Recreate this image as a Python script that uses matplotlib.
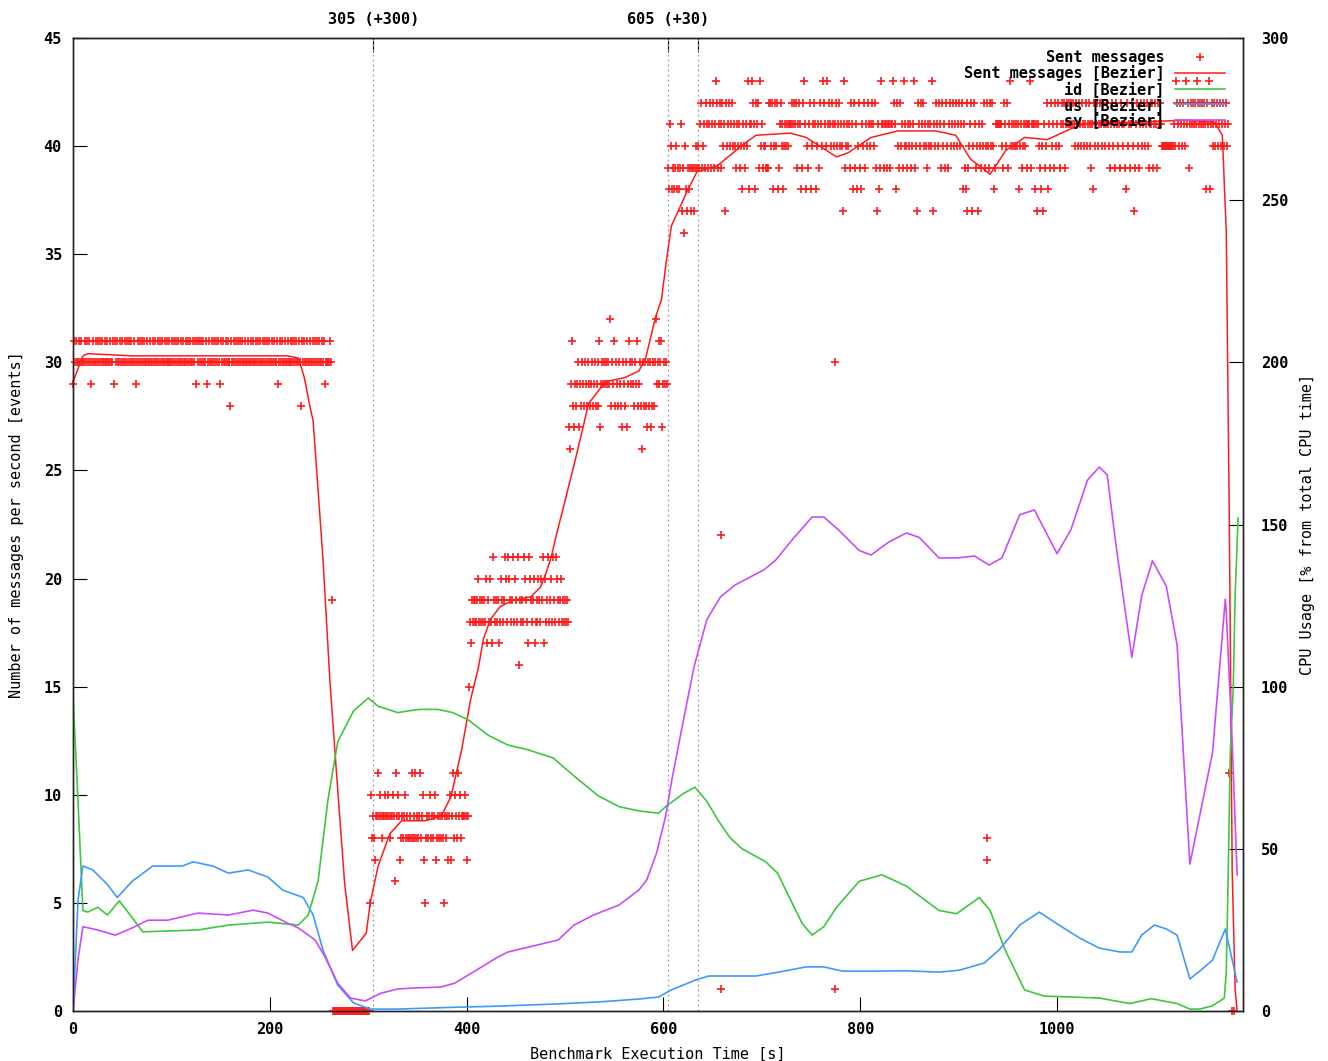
import numpy as np
import matplotlib
matplotlib.use("Agg")
import matplotlib.pyplot as plt
from matplotlib.lines import Line2D

plt.rcParams["font.family"] = "DejaVu Sans Mono"
plt.rcParams["font.weight"] = "bold"
plt.rcParams["font.size"] = 11

# Sent messages per second: one character per second, value = base + digit
steady_start, steady_base = 0, 28
steady = ("1323223232" "2232323212" "3223232323" "2232232232" "2313232232"
          "3223232323" "2232123232" "3232232232" "2323223232" "3223232232"
          "2323232322" "3232232323" "2232313232" "3232231232" "2323232321"
          "3232232322" "0322323232" "3232232232" "2323223232" "3223232323"
          "2232322312" "3232232232" "2323232322" "3203232232" "2322323232"
          "3223231222" "232")
idle_start, idle_base = 264, 0
idle = "00000000000000000000000000000000000000"
step1_start, step1_base = 302, 5
step1 = ("0534324464" "5434454454" "3445416454" "2343453433" "4363436343"
         "4634520343" "4534345234" "3434304342" "4524635436" "4534445424")
step2_start, step2_base = 402, 15
step2 = ("0324343434" "5343434352" "4353264343" "4235434653" "6543463543"
         "6143436543" "2654345234" "3543546253" "4634536436" "5434534343" "43")
step3_start, step3_base = 504, 26
step3 = ("1035213234" "1324324324" "3234234234" "2513434343" "4362435243"
         "2432143241" "3543432435" "2342042421" "4241242463" "4534513434" "3")
step4_start, step4_base = 605, 36
step4 = "3254232342" "3235130421" "3231331343"
full_start, full_base = 635, 37
full = ("3245234254" "2452452465" "2452453405" "3453453432" "4342314324"
        "3614465415" "4526342332" "2255351353" "5124534134" "3434445454"
        "5245412564" "1324513454" "1342543654" "3645435434" "5345343046"
        "2343425415" "2413521435" "2435434543" "5204126442" "4424424465"
        "4153253426" "3432434234" "6230543545" "3432434360" "4354354253"
        "4253245345" "3453453451" "4210523450" "3542304324" "3523532535"
        "3124444443" "2543524634" "3434341342" "3434244462" "4441404321"
        "3042351425" "3425345324" "5452454545" "4543543543" "5434534543"
        "2415345345" "4354345432" "4534254342" "5434215342" "4530245324"
        "5345345324" "5452454254" "5433333333" "3333436543" "5435436452"
        "4545454654" "5454541546" "1453453453" "4534534534")
# single samples
extra_t = [263, 658, 658, 774, 774, 929, 929, 1175, 1178, 1180]
extra_v = [19, 22, 1, 30, 1, 8, 7, 11, 0, 0]

# Bezier of sent messages (left axis)
bez_t = [0, 10, 15, 60, 120, 180, 218, 229, 235, 241, 244, 254, 261, 266, 271, 276,
         284, 298, 302, 310, 322, 334, 358, 374, 384, 395, 404, 412, 417, 424, 434,
         447, 465, 475, 481, 486, 490, 500, 511, 524, 541, 561, 575, 582, 592, 598,
         603, 608, 624, 634, 655, 679, 694, 729, 745, 776, 788, 811, 838, 877, 897,
         912, 932, 948, 967, 990, 1014, 1033, 1080, 1130, 1160, 1168, 1172, 1175,
         1178, 1181, 1183]
bez_v = [29.1, 30.3, 30.4, 30.3, 30.3, 30.3, 30.3, 30.2, 29.3, 27.9, 27.3, 20.9, 15.3,
         12.1, 9.0, 5.9, 2.8, 3.6, 5.0, 6.7, 8.2, 8.8, 8.8, 9.0, 9.9, 12.1, 14.4, 15.9,
         17.2, 18.1, 18.7, 19.0, 19.15, 19.6, 20.3, 21.0, 21.8, 23.6, 25.6, 28.1, 29.1,
         29.3, 29.6, 30.2, 32.1, 32.9, 34.7, 36.3, 37.9, 38.8, 39.1, 40.0, 40.5, 40.6,
         40.4, 39.5, 39.7, 40.4, 40.7, 40.7, 40.5, 39.4, 38.7, 39.8, 40.4, 40.3, 40.8,
         41.1, 41.1, 41.2, 41.1, 40.5, 36, 23, 6.5, 1, 0]

# CPU usage Bezier curves (right axis)
id_t = [0, 5, 10, 15, 25, 35, 47, 71, 127, 158, 198, 229, 239, 249, 259, 269, 285, 300,
        310, 330, 351, 371, 386, 402, 422, 442, 463, 488, 509, 534, 555, 575, 595, 603,
        621, 632, 644, 656, 668, 680, 704, 716, 728, 741, 751, 763, 776, 799, 822, 847,
        880, 898, 921, 932, 947, 967, 987, 1017, 1043, 1074, 1096, 1122, 1135, 1145,
        1158, 1170, 1172, 1174, 1176, 1179, 1181, 1184]
id_v = [97, 65, 31, 30.5, 32, 29.6, 34, 24.4, 25, 26.5, 27.4, 26.5, 29.6, 40, 65, 83,
        92.5, 96.5, 94, 92, 93, 93, 92, 89.7, 85, 82, 80.5, 78, 72.5, 66.3, 63, 61.7, 61,
        63.2, 67.2, 69, 64.7, 58.6, 53.3, 50, 46, 42.5, 35, 27, 23.4, 26, 32, 40, 42,
        38.5, 31, 30, 35, 31, 19, 6.5, 4.6, 4.3, 4, 2.3, 3.8, 2.3, 0.6, 0.6, 1.6, 4, 12,
        43, 79, 99, 128, 152]
us_t = [0, 5, 10, 20, 35, 45, 60, 81, 111, 122, 142, 158, 178, 198, 213, 234, 244, 254,
        269, 285, 302, 330, 392, 432, 493, 534, 575, 595, 608, 633, 646, 694, 717, 745,
        763, 782, 812, 847, 880, 901, 926, 941, 962, 982, 1002, 1023, 1043, 1064, 1076,
        1086, 1099, 1111, 1122, 1135, 1145, 1158, 1171, 1183]
us_v = [0, 34, 44.7, 43.5, 39, 35, 40, 44.7, 44.7, 46, 44.7, 42.5, 43.5, 41.3, 37.3, 35,
        29.6, 18.8, 8, 2.5, 0.6, 0.6, 1.2, 1.5, 2.2, 2.8, 3.7, 4.3, 6.5, 9.6, 10.8, 10.8,
        12, 13.6, 13.6, 12.3, 12.3, 12.4, 12, 12.6, 14.8, 18.8, 26.5, 30.5, 26.5, 22.5,
        19.4, 18.2, 18.2, 23.4, 26.5, 25.3, 23.4, 9.9, 12.3, 15.7, 25.3, 8.9]
sy_t = [0, 5, 10, 25, 43, 60, 76, 96, 127, 158, 183, 198, 218, 229, 246, 256, 269, 282,
        297, 313, 330, 347, 374, 388, 405, 432, 442, 493, 509, 529, 555, 575, 583, 593,
        602, 609, 619, 631, 644, 658, 673, 702, 714, 730, 751, 763, 778, 799, 811, 829,
        847, 860, 880, 899, 916, 931, 944, 962, 977, 1000, 1014, 1031, 1043, 1051, 1060,
        1076, 1086, 1097, 1111, 1122, 1135, 1158, 1171, 1172, 1178, 1183]
sy_v = [0, 15.7, 26, 25, 23.4, 25.6, 28, 28, 30.2, 29.6, 31.1, 30.2, 27.1, 25.6, 21.9,
        16.7, 8.6, 4, 3.1, 5.5, 6.8, 7.1, 7.4, 8.6, 11.7, 16.7, 18.2, 21.9, 26.5, 29.6,
        32.7, 37.3, 40.4, 48.7, 59.8, 72, 87.6, 106, 120.6, 127.7, 131.4, 136, 139, 145,
        152.3, 152.3, 148.3, 142, 140.6, 144.6, 147.4, 146, 139.7, 139.7, 140.3, 137.5,
        139.7, 153, 154.5, 141, 148.3, 163.7, 167.7, 165.3, 143.4, 109, 128, 138.8, 131,
        112.9, 45.3, 79.6, 127, 123, 83, 42]

marks_t = [305, 605, 635]
marks_lbl = ["305 (+300)", "605 (+30)", ""]

RED, GREEN, BLUE, PURPLE = "#ff1a1a", "#3cc83c", "#3d9bff", "#c84cff"


def expand(start, base, digits):
    t = np.arange(start, start + len(digits))
    v = base + np.array([int(c) for c in digits])
    return t, v


parts = [expand(steady_start, steady_base, steady), expand(idle_start, idle_base, idle),
         expand(step1_start, step1_base, step1), expand(step2_start, step2_base, step2),
         expand(step3_start, step3_base, step3), expand(step4_start, step4_base, step4),
         expand(full_start, full_base, full)]
sent_t = np.concatenate([p[0] for p in parts] + [extra_t])
sent_v = np.concatenate([p[1] for p in parts] + [extra_v])

fig = plt.figure(figsize=(13.28, 10.61), dpi=100)
ax = fig.add_axes([0.055, 0.0471, 0.881, 0.9171])
ax2 = ax.twinx()

for x in marks_t:
    ax.axvline(x, color="#999999", lw=0.9, ls=(0, (1.5, 2.5)), zorder=1)

ax.plot(sent_t, sent_v, ls="none", marker="+", ms=6, mew=1.2, color=RED, clip_on=False, zorder=3)
ax.plot(bez_t, bez_v, color=RED, lw=1.1, zorder=4)
ax2.plot(id_t, id_v, color=GREEN, lw=1.2)
ax2.plot(us_t, us_v, color=BLUE, lw=1.2)
ax2.plot(sy_t, sy_v, color=PURPLE, lw=1.2)

ax.set_xlim(0, 1189)
ax.set_ylim(0, 45)
ax2.set_ylim(0, 300)
ax.set_xticks(np.arange(0, 1001, 200))
ax.set_yticks(np.arange(0, 46, 5))
ax2.set_yticks(np.arange(0, 301, 50))
ax.tick_params(axis="x", direction="in", length=10, top=False, pad=8)
ax.tick_params(axis="y", direction="in", length=10, right=False, pad=8)
ax2.tick_params(axis="y", direction="in", length=10, pad=13)

top = ax.secondary_xaxis("top")
top.set_xticks(marks_t, labels=marks_lbl)
top.tick_params(direction="in", length=10, pad=8)

for a in (ax, ax2):
    for s in a.spines.values():
        s.set_color("#222222")
        s.set_linewidth(1.0)

ax.set_xlabel("Benchmark Execution Time [s]", labelpad=7)
ax.set_ylabel("Number of messages per second [events]", labelpad=14)
ax2.set_ylabel("CPU Usage [% from total CPU time]", labelpad=8)

handles = [Line2D([], [], ls="none", marker="+", ms=6, mew=1.2, color=RED),
           Line2D([], [], color=RED, lw=1.1),
           Line2D([], [], color=GREEN, lw=1.2),
           Line2D([], [], color=BLUE, lw=1.2),
           Line2D([], [], color=PURPLE, lw=1.2)]
labels = ["Sent messages", "Sent messages [Bezier]", "id [Bezier]", "us [Bezier]", "sy [Bezier]"]
ax2.legend(handles, labels, loc="upper right", bbox_to_anchor=(0.9846, 0.9876),
           frameon=False, markerfirst=False, handlelength=3.3, handletextpad=0.65,
           labelspacing=0.0, borderpad=0, borderaxespad=0, numpoints=1)

fig.savefig("out.png", dpi=100)
